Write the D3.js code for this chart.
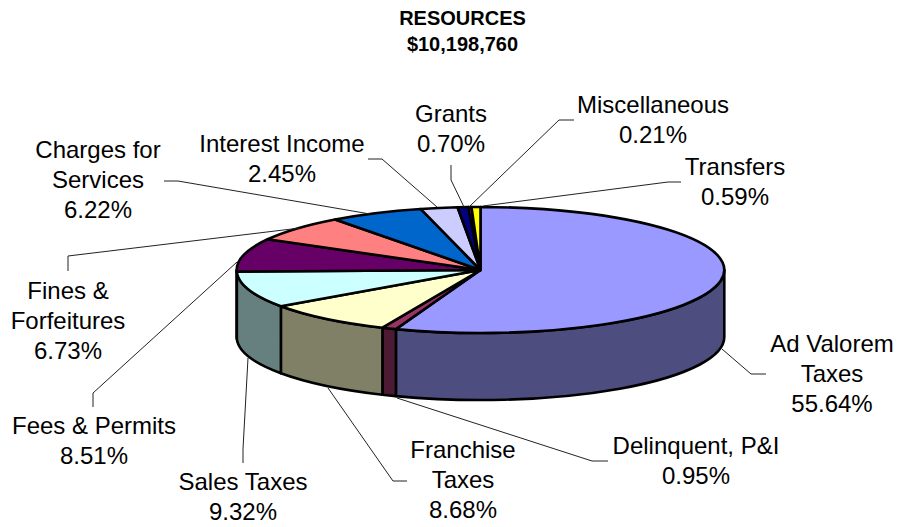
<!DOCTYPE html>
<html><head><meta charset="utf-8">
<script src="https://cdn.jsdelivr.net/npm/d3@7/dist/d3.min.js"></script>
<style>html,body{margin:0;background:#fff}svg{display:block}text{font-family:"Liberation Sans",Arial,sans-serif;fill:#000}</style>
</head><body>
<svg id="c" width="899" height="527"></svg>
<script>
const categories=["Ad Valorem Taxes","Delinquent, P&I","Franchise Taxes","Sales Taxes","Fees & Permits","Fines & Forfeitures","Charges for Services","Interest Income","Grants","Miscellaneous","Transfers"];
const values=[55.64,0.95,8.68,9.32,8.51,6.73,6.22,2.45,0.70,0.21,0.59];
const topColors=["#9999FF","#993366","#FFFFCC","#CCFFFF","#660066","#FF8080","#0066CC","#CCCCFF","#000080","#FF00FF","#FFFF00"];
const labelLines=[["Ad Valorem","Taxes"],["Delinquent, P&I"],["Franchise","Taxes"],["Sales Taxes"],["Fees & Permits"],["Fines &","Forfeitures"],["Charges for","Services"],["Interest Income"],["Grants"],["Miscellaneous"],["Transfers"]];
const titleLines=["RESOURCES","$10,198,760"];

// layout
const cx=480.5,cy=270,rx=243.8,ry=63,depth=67;
const labelPos=[[832,352],[696,454],[463,458],[243,490],[94,434],[68,299],[98,158],[282,152],[451,122],[653,113],[735,175]];
const leaders=[
 [[722,349],[751,374],[766,374]],
 [[397,398],[592,461],[608,461]],
 [[328,388],[393,481],[407,481]],
 [[248,358],[243,449],[243,463]],
 [[237,262],[93,393],[93,407]],
 [[300,228],[68,256],[68,271]],
 [[370,214],[178,181],[164,181]],
 [[437,207],[382,159],[368,159]],
 [[464,207],[451,180],[451,165]],
 [[469,207],[559,120],[574,120]],
 [[483,206],[668,182],[681,182]]];
const fontSize=24,lineH=30,titleSize=20;

const svg=d3.select("#c");
const arcs=d3.pie().sort(null).value(d=>d)(values);
const px=a=>cx+rx*Math.sin(a), py=a=>cy-ry*Math.cos(a);
const sideColor=c=>{const k=d3.rgb(c);return d3.rgb(k.r/2,k.g/2,k.b/2).formatHex();};

// extruded front wall: only the part of each slice between 90° and 270° is visible
const lo=Math.PI/2,hi=3*Math.PI/2;
svg.append("g").selectAll("path")
 .data(arcs.filter(d=>d.endAngle>lo&&d.startAngle<hi))
 .join("path")
 .attr("fill",d=>sideColor(topColors[d.index]))
 .attr("stroke","#000").attr("stroke-width",2.6).attr("stroke-linejoin","round")
 .attr("d",d=>{
   const a=Math.max(d.startAngle,lo),b=Math.min(d.endAngle,hi);
   return `M${px(a)},${py(a)}A${rx},${ry} 0 0 1 ${px(b)},${py(b)}`+
          `L${px(b)},${py(b)+depth}A${rx},${ry} 0 0 0 ${px(a)},${py(a)+depth}Z`;
 });

// top face
const arc=d3.arc().innerRadius(0).outerRadius(rx);
svg.append("g").attr("transform",`translate(${cx},${cy}) scale(1,${ry/rx})`)
 .selectAll("path").data(arcs).join("path")
 .attr("d",arc)
 .attr("fill",d=>topColors[d.index])
 .attr("stroke","#000").attr("stroke-width",2.6).attr("stroke-linejoin","round")
 .attr("vector-effect","non-scaling-stroke");

// leader lines
const line=d3.line();
svg.append("g").selectAll("path").data(leaders).join("path")
 .attr("d",line).attr("fill","none").attr("stroke","#222").attr("stroke-width",1);

// labels
const lab=svg.append("g").attr("font-size",fontSize).attr("text-anchor","middle");
categories.forEach((c,i)=>{
  const t=lab.append("text").attr("x",labelPos[i][0]).attr("y",labelPos[i][1]);
  [...labelLines[i],d3.format(".2f")(values[i])+"%"].forEach((s,j)=>{
    t.append("tspan").attr("x",labelPos[i][0]).attr("dy",j?lineH:0).text(s);
  });
});

// title
const tt=svg.append("text").attr("text-anchor","middle").attr("font-size",titleSize).attr("font-weight","bold");
titleLines.forEach((s,j)=>tt.append("tspan").attr("x",462.5).attr("y",25+j*26).text(s));
</script>
</body></html>
